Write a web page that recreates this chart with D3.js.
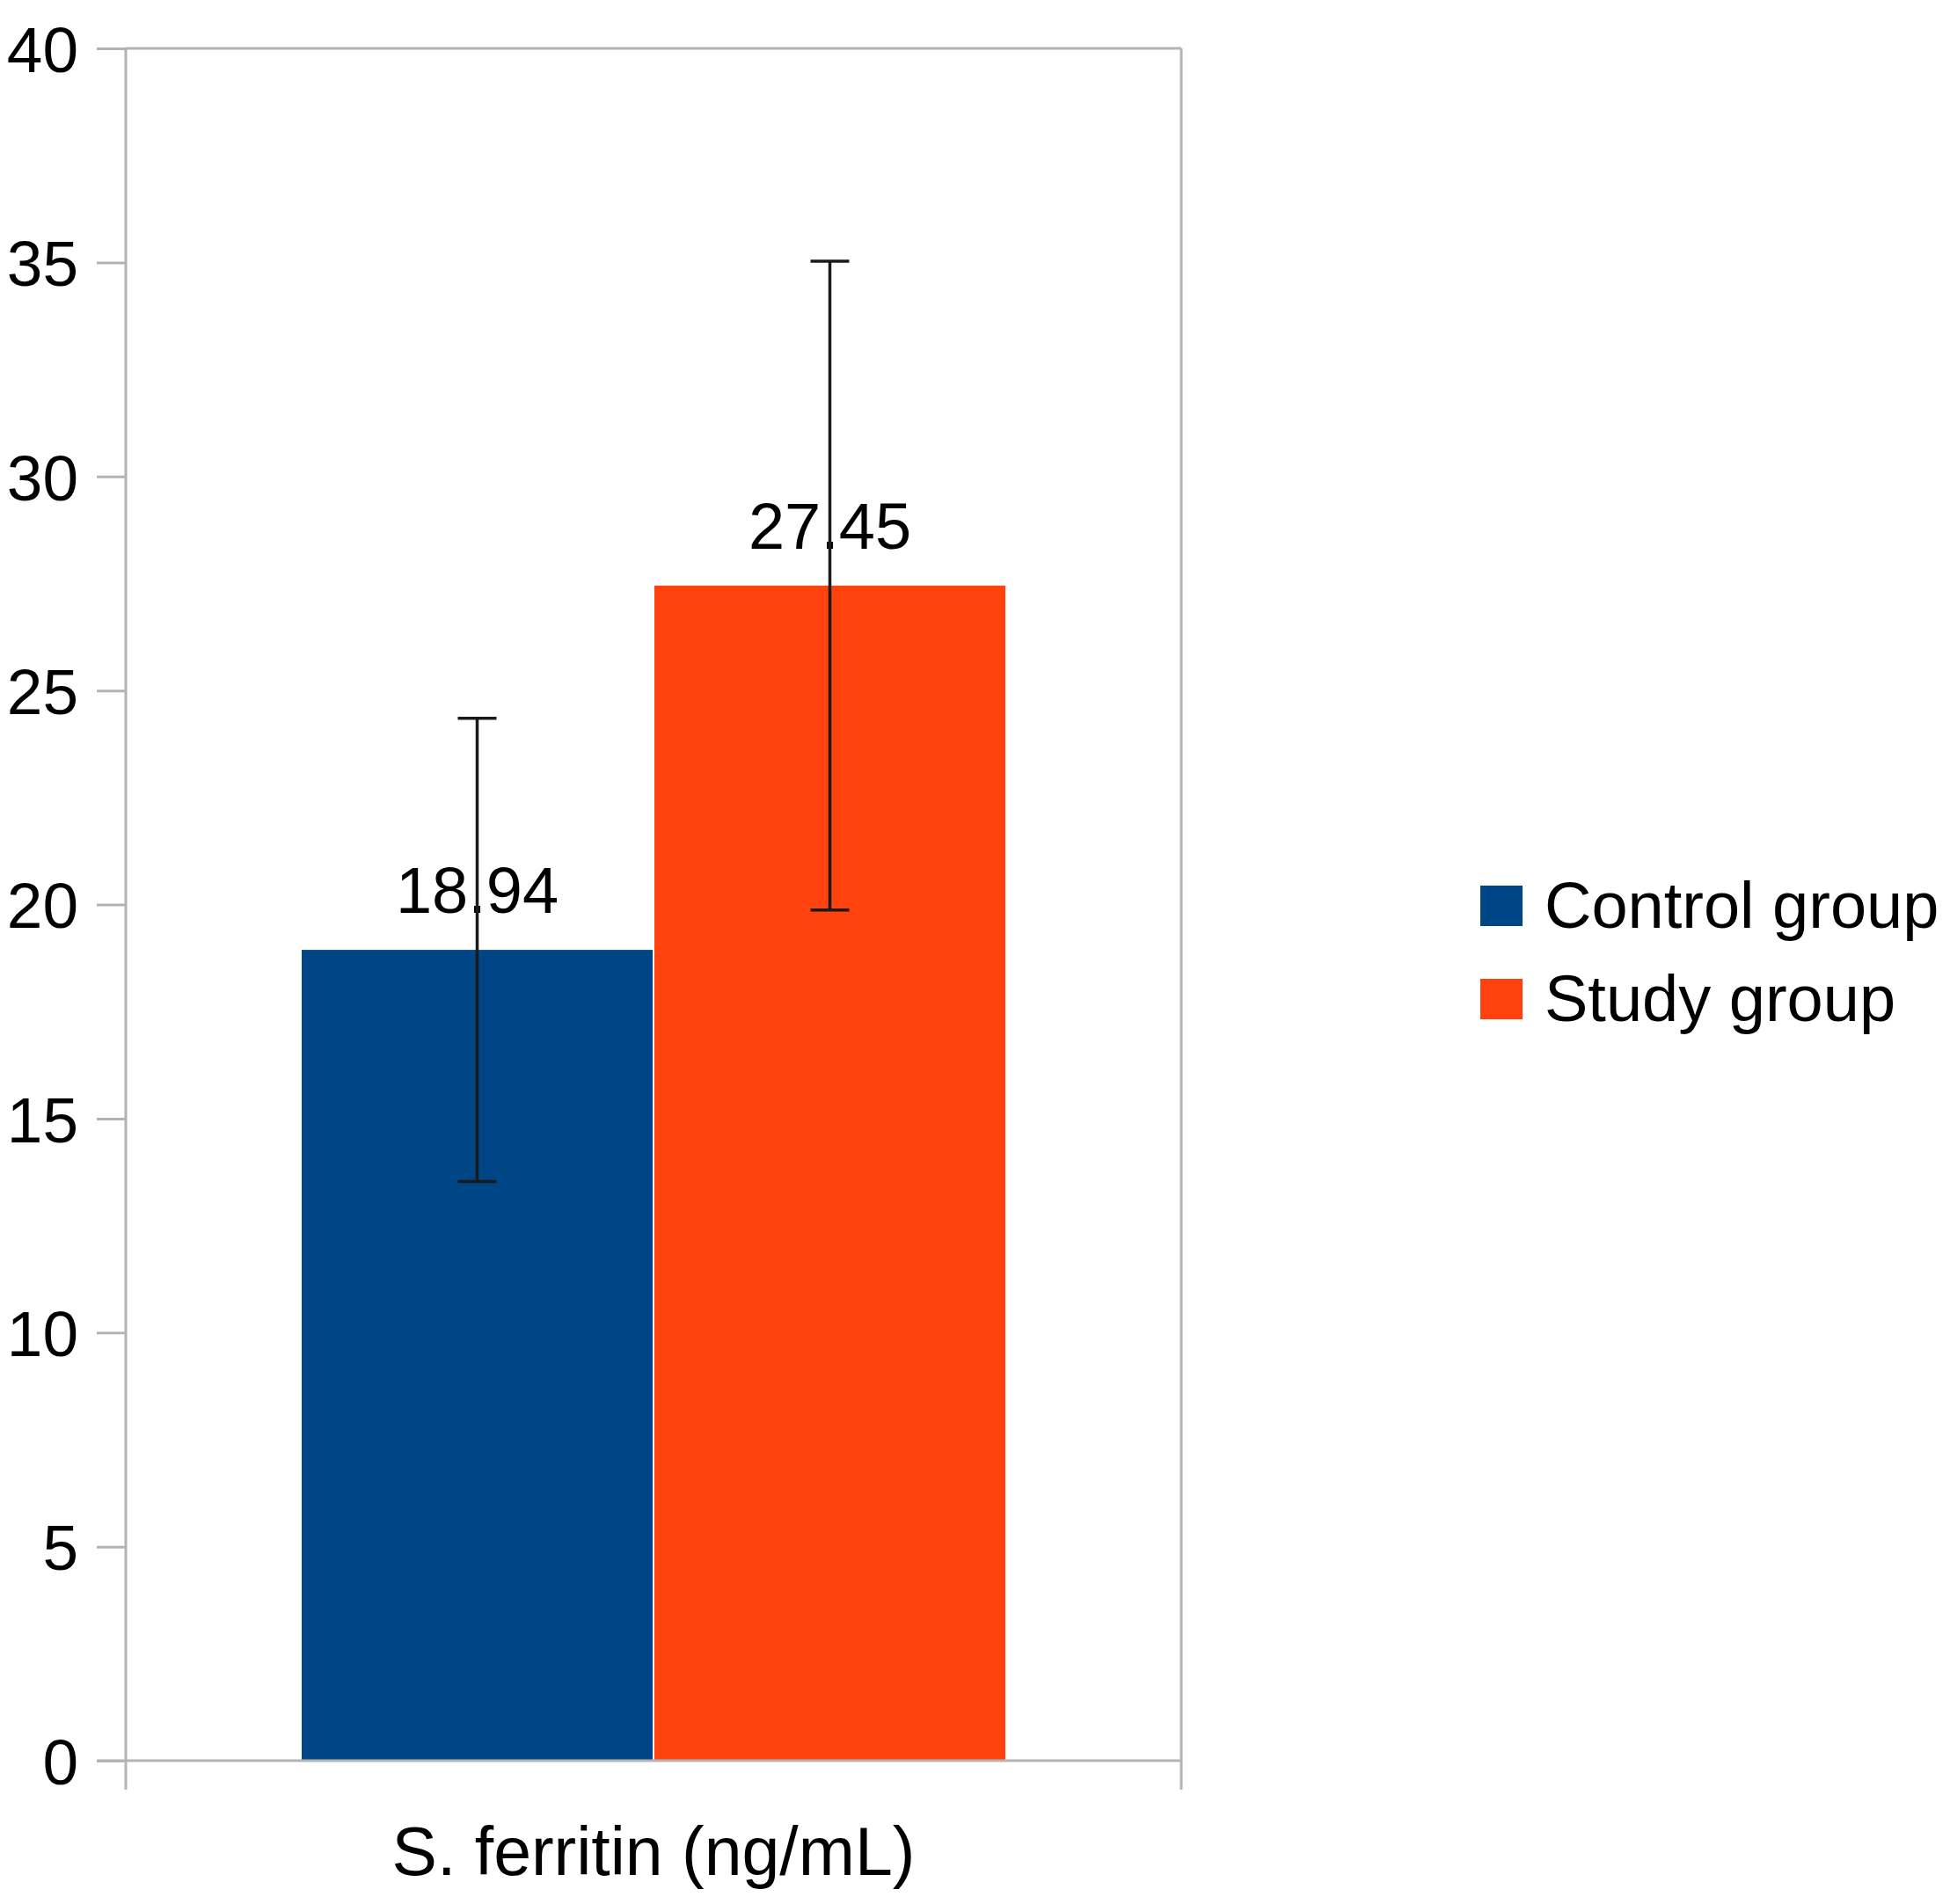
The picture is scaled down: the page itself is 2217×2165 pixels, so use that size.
<!DOCTYPE html>
<html>
<head>
<meta charset="utf-8">
<script src="https://cdn.jsdelivr.net/npm/d3@7"></script>
<style>
  body { margin: 0; background: #fff; }
  text { font-family: "Liberation Sans", Arial, sans-serif; fill: #000; }
</style>
</head>
<body>
<div id="chart"></div>
<script>
// data
var categories = ["S. ferritin (ng/mL)"]
var seriesNames = ["Control group", "Study group"]
var means = [18.94, 27.45]
var errors = [5.41, 7.58]
var yTicks = [0, 5, 10, 15, 20, 25, 30, 35, 40]

var blue = "#004586"
var orange = "#ff420e"
var axisGray = "#b3b3b3"

var color = d3.scaleOrdinal().domain(seriesNames).range([blue, orange])

var W = 2217, H = 2165
var plotLeft = 143, plotRight = 1343, plotTop = 55, plotBottom = 2002

var svg = d3.select("#chart").append("svg").attr("width", W).attr("height", H)

var y = d3.scaleLinear().domain([0, 40]).range([plotBottom, plotTop])
var x = d3.scaleBand().domain(categories).range([plotLeft, plotRight])
var xInner = d3.scaleBand().domain(seriesNames)
  .range([x.bandwidth() / 6, x.bandwidth() * 5 / 6])
  .paddingInner(0.005)

// frame: top and right borders
svg.append("line").attr("x1", plotLeft).attr("x2", plotRight).attr("y1", plotTop).attr("y2", plotTop)
  .style("stroke", axisGray).style("stroke-width", 3)
svg.append("line").attr("x1", plotRight).attr("x2", plotRight).attr("y1", plotTop).attr("y2", plotBottom + 33)
  .style("stroke", axisGray).style("stroke-width", 3)

// y axis
var yAxis = svg.append("g")
  .attr("transform", "translate(" + plotLeft + ",0)")
  .call(d3.axisLeft(y).tickValues(yTicks).tickSize(33).tickSizeOuter(0).tickPadding(21))
yAxis.select(".domain").remove()
yAxis.selectAll(".tick line").style("stroke", axisGray).style("stroke-width", 3)
yAxis.selectAll(".tick text").style("font-size", "73px").attr("dy", "0.36em")
svg.append("line").attr("x1", plotLeft).attr("x2", plotLeft).attr("y1", plotTop).attr("y2", plotBottom + 33)
  .style("stroke", axisGray).style("stroke-width", 3)

// bars
var g = svg.append("g").attr("transform", "translate(" + x(categories[0]) + ",0)")
g.selectAll("rect.bar").data(means).enter().append("rect")
  .attr("class", "bar")
  .attr("x", function (d, i) { return xInner(seriesNames[i]) })
  .attr("width", xInner.bandwidth())
  .attr("y", function (d) { return y(d) })
  .attr("height", function (d) { return y(0) - y(d) })
  .style("fill", function (d, i) { return color(seriesNames[i]) })

// baseline (drawn over bars)
svg.append("line").attr("x1", plotLeft - 33).attr("x2", plotRight).attr("y1", y(0)).attr("y2", y(0))
  .style("stroke", axisGray).style("stroke-width", 3)

// value labels
g.selectAll("text.val").data(means).enter().append("text")
  .attr("class", "val")
  .attr("x", function (d, i) { return xInner(seriesNames[i]) + xInner.bandwidth() / 2 })
  .attr("y", function (d) { return y(d) - 42 })
  .attr("text-anchor", "middle")
  .style("font-size", "74px")
  .text(function (d) { return d.toFixed(2) })

// error bars
var capW = 22
means.forEach(function (m, i) {
  var cx = xInner(seriesNames[i]) + xInner.bandwidth() / 2
  var lo = y(m - errors[i]), hi = y(m + errors[i])
  g.append("line").attr("x1", cx).attr("x2", cx).attr("y1", hi).attr("y2", lo)
    .style("stroke", "#1a1a1a").style("stroke-width", 3.5)
  g.append("line").attr("x1", cx - capW).attr("x2", cx + capW).attr("y1", hi).attr("y2", hi)
    .style("stroke", "#1a1a1a").style("stroke-width", 3.5)
  g.append("line").attr("x1", cx - capW).attr("x2", cx + capW).attr("y1", lo).attr("y2", lo)
    .style("stroke", "#1a1a1a").style("stroke-width", 3.5)
})

// category label
svg.append("text")
  .attr("x", x(categories[0]) + x.bandwidth() / 2)
  .attr("y", 2132)
  .attr("text-anchor", "middle")
  .style("font-size", "77px")
  .text(categories[0])

// legend
seriesNames.forEach(function (name, i) {
  var ly = 1055 + i * 106
  svg.append("rect")
    .attr("x", 1683).attr("y", ly - 48)
    .attr("width", 48).attr("height", 46)
    .style("fill", color(name))
  svg.append("text")
    .attr("x", 1756).attr("y", ly)
    .style("font-size", "74px")
    .text(name)
})
</script>
</body>
</html>
